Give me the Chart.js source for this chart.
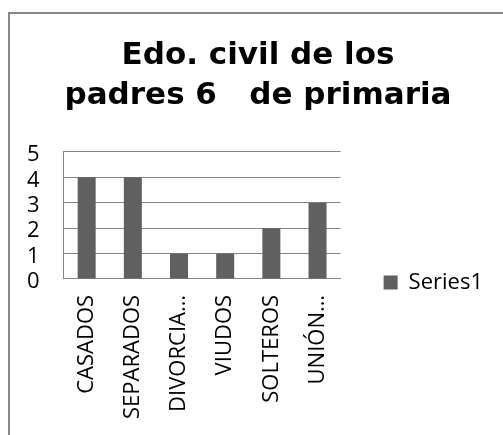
<!DOCTYPE html>
<html>
<head>
<meta charset="utf-8">
<script src="https://cdn.jsdelivr.net/npm/chart.js@4.4.0/dist/chart.umd.min.js"></script>
<style>
  html, body { margin: 0; padding: 0; background: #fff; overflow: hidden; }
  #frame { position: absolute; left: 8px; top: 12px; width: 600px; height: 500px;
           border-left: 2px solid #878787; border-top: 2px solid #878787; }
  #c { position: absolute; left: 0; top: 0; }
</style>
</head>
<body>
<div id="frame"></div>
<canvas id="c" width="503" height="435"></canvas>
<script>
var titleLines = ['Edo. civil de los', 'padres 6   de primaria'];
var categories = ['CASADOS', 'SEPARADOS', 'DIVORCIA…', 'VIUDOS', 'SOLTEROS', 'UNIÓN…'];
var series1 = [4, 4, 1, 1, 2, 3];
var yTicks = [0, 1, 2, 3, 4, 5];

var labelFont = "'Open Sans', 'Noto Sans', sans-serif";

// Excel centers the title over the whole frame, which runs past the right edge
var shiftTitle = {
    id: 'shiftTitle',
    afterLayout: function(chart) {
        if (chart.titleBlock) {
            chart.titleBlock.left += 10;
            chart.titleBlock.right += 10;
        }
    }
};

new Chart(document.getElementById('c'), {
    type: 'bar',
    data: {
        labels: categories,
        datasets: [{
            label: 'Series1',
            data: series1,
            backgroundColor: '#606060',
            borderWidth: 0,
            barPercentage: 0.39,
            categoryPercentage: 1
        }]
    },
    options: {
        responsive: false,
        animation: false,
        layout: { padding: { left: 3, top: 36, right: 10, bottom: 0 } },
        plugins: {
            title: {
                display: true,
                text: titleLines,
                color: '#000',
                font: { family: "'DejaVu Sans', 'Liberation Sans', sans-serif", size: 31, weight: 'bold', lineHeight: 1.29 },
                padding: { top: 0, bottom: 36 }
            },
            legend: {
                position: 'right',
                maxWidth: 200,
                // empty title only pushes the legend entry down to where Excel puts it
                title: { display: true, text: '', font: { size: 10 }, padding: 41 },
                labels: {
                    color: '#000',
                    font: { family: labelFont, size: 22 },
                    boxWidth: 14,
                    boxHeight: 14,
                    padding: 43
                }
            },
            tooltip: { enabled: false }
        },
        scales: {
            x: {
                grid: { display: false, drawTicks: false },
                border: { display: true, color: '#868686', width: 1 },
                ticks: {
                    color: '#000',
                    font: { family: labelFont, size: 22 },
                    minRotation: 90,
                    maxRotation: 90,
                    autoSkip: false,
                    padding: 16
                }
            },
            y: {
                min: 0,
                max: 5,
                afterBuildTicks: function(axis) {
                    axis.ticks = yTicks.map(function(v) { return { value: v }; });
                },
                grid: { color: '#868686', lineWidth: 1, drawTicks: false },
                border: { display: true, color: '#868686', width: 1 },
                ticks: {
                    color: '#000',
                    font: { family: labelFont, size: 22 },
                    autoSkip: false,
                    labelOffset: 3,
                    padding: 24
                }
            }
        }
    },
    plugins: [shiftTitle]
});
</script>
</body>
</html>
